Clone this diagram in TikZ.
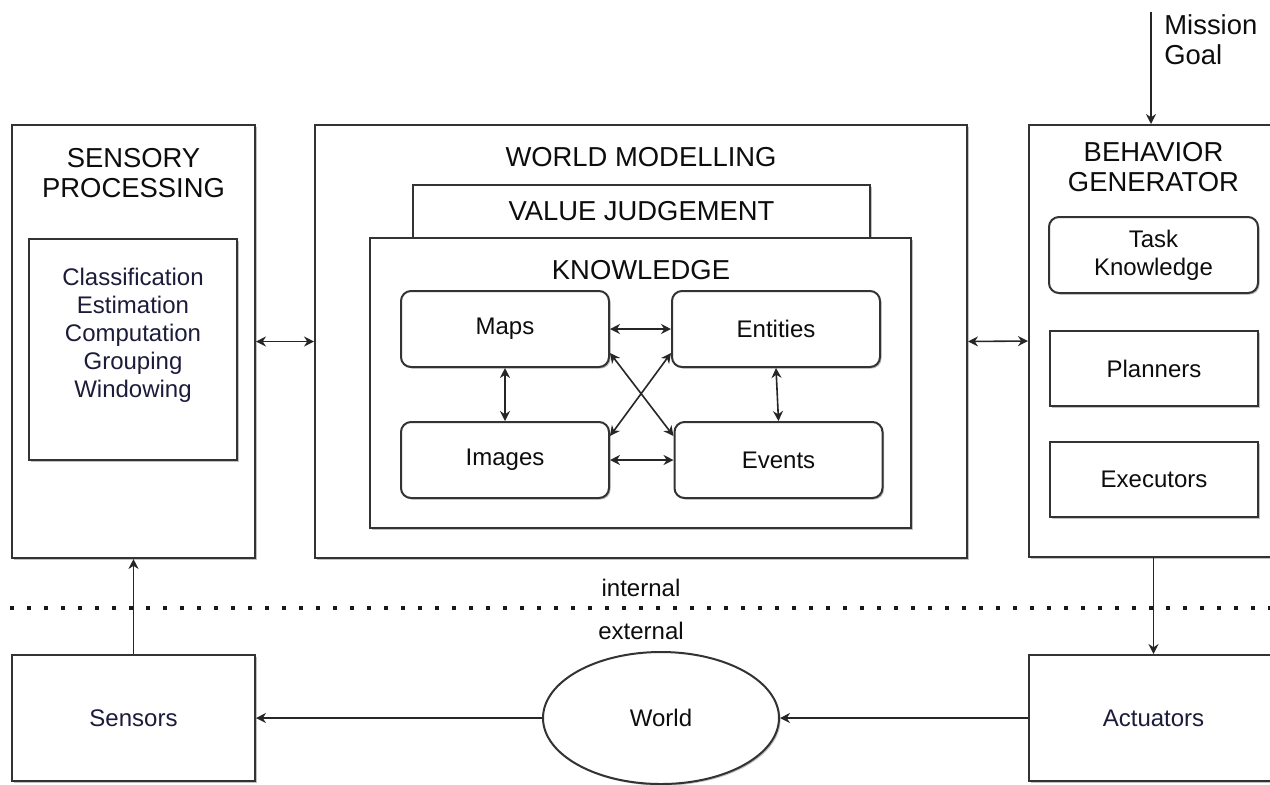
\documentclass[tikz,border=0pt]{standalone}
\usepackage{fontspec}
\setmainfont{Liberation Sans}
\usetikzlibrary{shapes.geometric, arrows.meta, shadows}
\definecolor{navyink}{RGB}{28,28,58}

\begin{document}
\begin{tikzpicture}[
    x=0.5pt, y=-0.5pt,
    >={Stealth[length=5pt, width=5pt]},
    box/.style={draw=black!80, line width=1pt, fill=white, inner sep=0pt,
        font=\fontsize{12}{14}\selectfont, text=black!95,
        drop shadow={shadow xshift=0.8pt, shadow yshift=-0.8pt, fill=black!30, opacity=0.8}},
    roundbox/.style={box, rounded corners=5pt, minimum width=104pt, minimum height=38pt},
    heading/.style={font=\fontsize{13.7}{15}\selectfont, align=center, text=black!95, inner sep=0pt},
    itemtext/.style={font=\fontsize{12}{14}\selectfont, align=center, text=navyink, inner sep=0pt},
    link/.style={line width=0.8pt, draw=black!85},
    divider/.style={line width=2pt, dash pattern=on 2pt off 6.5pt, draw=black!90}
]
    \useasboundingbox (0,0) rectangle (1270,784);

    % Sensory processing
    \node[box, minimum width=121.5pt, minimum height=216.5pt] (sp) at (133.5,341.5) {};
    \node[heading] (sptitle) at (133.5,173) {SENSORY\\PROCESSING};
    \node[box, minimum width=104pt, minimum height=110.5pt] (spin) at (133,349.5) {};
    \node[itemtext] (spitems) at (133,335) {Classification\\Estimation\\Computation\\Grouping\\Windowing};

    % World modelling
    \node[box, minimum width=326pt, minimum height=216.5pt] (wm) at (641,341.5) {};
    \node[heading] (wmtitle) at (641,157) {WORLD MODELLING};
    \node[box, heading, minimum width=228.5pt, minimum height=26.5pt] (vj) at (641.5,211.5) {VALUE JUDGEMENT};
    \node[box, minimum width=270.5pt, minimum height=145pt] (kn) at (640.5,383) {};
    \node[heading] (kntitle) at (641,270) {KNOWLEDGE};

    \node[roundbox] (maps) at (505,329) {Maps};
    \node[roundbox] (entities) at (776,329) {Entities};
    \node[roundbox] (images) at (505,460) {Images};
    \node[roundbox] (events) at (778.5,460) {Events};

    % Behavior generator
    \node[box, minimum width=124.5pt, minimum height=216pt] (bg) at (1153.5,341) {};
    \node[heading] (bgtitle) at (1153.5,167) {BEHAVIOR\\GENERATOR};
    \node[roundbox, align=center, minimum width=104.5pt] (task) at (1153.5,255) {Task\\Knowledge};
    \node[box, minimum width=104pt, minimum height=37.5pt] (planners) at (1154,368.5) {Planners};
    \node[box, minimum width=104pt, minimum height=37.5pt] (executors) at (1154,479.5) {Executors};

    \node[heading, align=left, anchor=west] (mission) at (1164,40) {Mission\\Goal};
    \coordinate (goal) at (1151,12);

    % Outside
    \node[box, text=navyink, minimum width=121.5pt, minimum height=63pt] (sensors) at (133.5,718) {Sensors};
    \node[box, ellipse, minimum width=118pt, minimum height=66pt] (world) at (661,718) {World};
    \node[box, text=navyink, minimum width=124.5pt, minimum height=63pt] (actuators) at (1153.5,718) {Actuators};

    \coordinate (divL) at (10,608);
    \coordinate (divR) at (1270,608);
    \draw[divider] (divL) -- (divR);
    \node[itemtext, text=black!95] (internal) at (641,588) {internal};
    \node[itemtext, text=black!95] (external) at (641,631) {external};

    % Connections
    \draw[link, <->] (sp.east) -- (wm.west);
    \draw[link, <->] (wm.east) -- (bg.west);
    \draw[link, <->] (maps.east) -- (entities.west);
    \draw[link, <->] (images.east) -- (events.west);
    \draw[link, <->] (maps.south) -- (images.north);
    \draw[link, <->] (entities.south) -- (events.north);
    \draw[link, <->] ([yshift=7.5pt]maps.south east) -- ([yshift=-7.5pt]events.north west);
    \draw[link, <->] ([yshift=7.5pt]entities.south west) -- ([yshift=-7.5pt]images.north east);

    \draw[link, ->] (goal) -- (goal |- bg.north);
    \draw[link, ->] (bg.south) -- (actuators.north);
    \draw[link, ->] (actuators.west) -- (world.east);
    \draw[link, ->] (world.west) -- (sensors.east);
    \draw[link, ->] (sensors.north) -- (sp.south);

\end{tikzpicture}
\end{document}
